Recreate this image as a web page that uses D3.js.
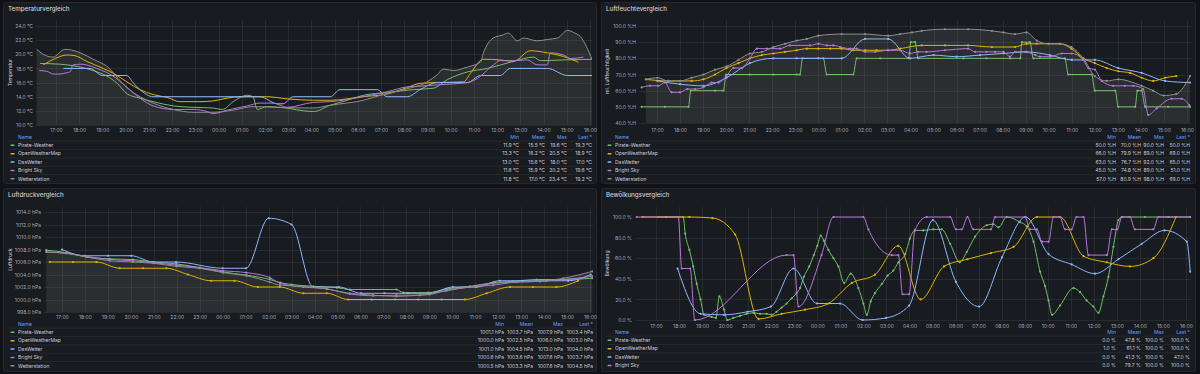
<!DOCTYPE html>
<html>
<head>
<meta charset="utf-8">
<script src="https://cdn.jsdelivr.net/npm/d3@7"></script>
<style>
html, body { margin: 0; padding: 0; background: #111217; }
svg { display: block; font-family: Inter, "Open Sans", sans-serif; }
</style>
</head>
<body>
<svg id="dashboard" width="1200" height="374"></svg>
<script>
// ---- data ----
var seriesNames = ["Pirate-Weather", "OpenWeatherMap", "DasWetter", "Bright Sky", "Wetterstation"];
var statHeaders = ["Min", "Mean", "Max", "Last *"];
var hourTickFormat = "%H:%M";

// Temperatur (°C)
var tempTicks = [10, 12, 14, 16, 18, 20, 22, 24];
var tempPirate = [["16:19",18.7],["17:10",18.6],["18:02",18.2],["18:36",17.7],["19:12",16.9],["19:38",15.9],["20:04",14.4],["20:37",13.8],["21:11",13.3],["22:03",12.7],["22:54",12.5],["23:46",12.4],["00:10",12.2],["00:38",13.3],["01:14",14.2],["01:29",14.0],["01:40",12.2],["02:05",12.6],["02:39",12.5],["04:05",11.9],["04:49",12.8],["05:33",13.5],["06:14",14.2],["07:16",14.6],["08:23",15.0],["09:15",15.2],["09:51",16.4],["10:43",17.5],["11:35",18.0],["12:42",19.0],["13:34",19.6],["13:52",19.1],["14:51",19.2],["16:06",19.3]];
var tempOwm = [["16:27",18.5],["16:58",19.4],["17:28",19.9],["17:49",19.8],["18:19",19.0],["19:02",18.0],["19:32",17.2],["20:03",16.1],["20:37",15.0],["21:11",14.3],["21:47",13.9],["22:20",13.3],["23:12",13.3],["23:46",13.4],["00:22",13.8],["00:56",14.0],["02:05",14.0],["02:57",13.7],["04:05",13.5],["04:49",13.5],["06:14",14.0],["07:16",14.4],["08:08",15.3],["08:41",15.9],["09:25",16.0],["10:33",16.1],["10:51",17.3],["11:24",19.3],["12:08",19.2],["12:42",19.0],["13:26",20.5],["14:10",20.2],["14:51",19.7],["15:30",18.9]];
var tempDasWetter = [["17:19",18],["18:28",18],["19:00",17],["20:03",17],["20:19",16],["20:37",15],["21:11",14],["01:47",14],["02:32",13],["02:47",13],["03:13",14],["04:49",14],["05:14",15],["06:50",15],["07:16",14],["08:08",14],["08:41",15],["09:25",16],["10:43",16],["11:17",17],["12:08",17],["12:34",18],["14:10",18],["15:02",17],["16:06",17]];
var tempBrightSky = [["16:17",17.7],["16:36",17.6],["16:53",17.2],["17:10",17.2],["17:28",17.4],["17:36",17.5],["17:44",18.5],["18:02",18.6],["18:19",18.5],["18:45",18.0],["19:12",17.4],["19:38",16.5],["20:04",15.3],["20:37",13.8],["21:11",12.7],["22:03",12.2],["22:54",12.2],["23:31",11.9],["23:46",11.6],["00:22",12.1],["01:14",12.7],["01:47",13.1],["02:21",13.1],["02:57",12.5],["04:05",13.2],["04:49",13.3],["06:14",14.0],["07:16",14.7],["08:08",15.4],["08:41",15.5],["09:33",15.7],["10:43",16.0],["11:17",16.9],["11:35",17.8],["11:50",18.5],["12:08",19.1],["12:42",19.1],["13:18",19.2],["13:44",18.5],["14:10",18.5],["14:17",20.2],["14:51",19.9],["15:10",19.4],["15:43",19.6]];
var tempStation = [["16:10",20.7],["16:27",20.0],["16:52",19.6],["17:23",20.7],["17:41",20.6],["18:07",20.1],["18:36",19.3],["19:20",17.9],["19:40",16.6],["20:03",15.3],["20:37",14.0],["21:11",13.1],["22:03",12.2],["22:54",11.8],["23:46",11.8],["00:38",12.1],["01:29",12.6],["02:32",12.5],["04:05",12.4],["04:49",12.8],["06:14",13.5],["06:58",14.2],["07:58",15.0],["08:59",16.1],["09:25",17.1],["09:41",17.9],["10:07",17.7],["10:43",18.2],["11:17",18.9],["11:24",20.1],["11:50",22.3],["12:13",22.7],["12:29",23.0],["12:52",21.9],["13:08",22.3],["13:44",21.9],["14:10",22.1],["14:36",22.3],["15:02",23.4],["15:17",23.1],["15:35",22.5],["16:06",19.2]];
var tempStats = [["11.9 °C","15.5 °C","19.6 °C","19.3 °C"],["13.3 °C","16.2 °C","20.5 °C","18.9 °C"],["13.0 °C","15.6 °C","18.0 °C","17.0 °C"],["11.6 °C","15.9 °C","20.2 °C","19.6 °C"],["11.8 °C","17.0 °C","23.4 °C","19.2 °C"]];

// Luftfeuchte (%H)
var humTicks = [40, 50, 60, 70, 80, 90, 100];
var humPirate = [["16:20",50],["17:21",50],["18:22",50],["18:28",60],["19:31",60],["19:53",60],["20:00",70],["21:02",70],["22:03",70],["23:04",70],["23:12",70],["23:19",80],["00:13",80],["00:22",70],["01:31",70],["01:40",80],["02:41",80],["03:55",80],["04:01",90],["04:12",90],["04:20",80],["06:18",80],["07:18",80],["08:20",80],["08:46",80],["08:50",90],["09:11",90],["09:20",80],["10:42",80],["10:51",70],["11:52",70],["12:00",60],["12:53",60],["13:01",50],["13:45",50],["13:51",60],["14:02",60],["14:11",50],["15:11",50],["16:08",50]];
var humOwm = [["16:31",67],["17:29",66],["18:30",66],["19:01",67],["19:31",70],["20:01",74],["20:32",77],["21:02",80],["21:33",82],["22:03",83],["22:33",84],["23:04",85],["23:30",86],["00:00",86],["00:31",86],["01:01",86],["01:31",85],["02:02",85],["02:32",85],["03:02",85],["03:33",86],["04:29",88],["05:30",88],["06:30",88],["07:32",87],["08:32",87],["09:02",89],["09:29",89],["10:29",89],["10:59",86],["11:30",80],["12:00",77],["12:31",74],["13:01",72],["13:32",71],["14:02",68],["14:32",66],["15:03",68],["15:32",69]];
var humDasWetter = [["17:01",66],["18:00",64],["19:01",63],["20:01",68],["21:02",77],["22:03",80],["23:04",80],["00:00",80],["01:01",80],["02:02",92],["03:02",92],["03:59",80],["05:00",82],["06:00",81],["07:01",82],["08:02",83],["09:02",84],["10:03",82],["11:00",79],["12:00",79],["13:01",74],["14:02",71],["15:03",66],["16:08",65]];
var humBrightSky = [["16:20",62],["16:42",63],["17:03",63],["17:21",65],["17:38",59],["18:00",59],["18:19",61],["18:39",61],["19:01",62],["19:22",65],["19:40",65],["20:01",69],["20:19",74],["20:41",74],["21:02",80],["21:20",86],["21:46",86],["22:20",86],["22:46",88],["23:38",88],["00:00",89],["00:22",88],["00:39",88],["00:57",87],["01:23",86],["01:40",86],["02:02",84],["02:28",84],["03:02",85],["03:33",85],["03:59",83],["04:20",84],["04:42",84],["05:30",85],["06:30",86],["06:48",84],["07:18",84],["07:40",84],["08:02",84],["08:19",81],["08:32",84],["08:58",84],["09:25",82],["09:37",81],["10:04",81],["10:34",83],["11:00",83],["11:30",79],["11:43",74],["12:00",73],["12:18",66],["12:48",63],["13:18",63],["13:40",63],["14:06",61],["14:19",45],["14:41",49],["15:20",55],["15:46",55],["16:06",51]];
var humStation = [["16:31",67],["17:01",68],["17:29",66],["18:00",66],["18:30",68],["19:01",70],["19:31",73],["20:01",75],["20:32",79],["21:02",83],["21:33",84],["22:03",87],["22:33",89],["23:04",91],["23:30",92],["00:00",94],["01:01",95],["02:02",95],["03:02",94],["03:33",95],["04:04",96],["04:29",97],["05:30",98],["06:30",98],["07:32",97],["08:02",96],["08:32",95],["09:02",96],["09:29",91],["09:59",89],["10:29",89],["10:59",87],["11:30",80],["12:00",69],["12:31",66],["13:01",67],["14:02",63],["14:32",60],["14:59",57],["15:32",58],["16:08",69]];
var humStats = [["50.0 %H","70.0 %H","90.0 %H","50.0 %H"],["66.0 %H","79.9 %H","89.0 %H","69.0 %H"],["63.0 %H","76.7 %H","92.0 %H","65.0 %H"],["45.0 %H","74.8 %H","89.0 %H","51.0 %H"],["57.0 %H","80.9 %H","98.0 %H","69.0 %H"]];

// Luftdruck (hPa)
var pressTicks = [998, 1000, 1002, 1004, 1006, 1008, 1010, 1012, 1014];
var pressPirate = [["16:19",1007.9],["17:11",1007.5],["18:04",1006.8],["19:05",1006.5],["20:05",1006.4],["20:58",1006.0],["21:59",1005.7],["23:00",1005.1],["00:01",1004.4],["01:02",1003.9],["02:03",1003.2],["02:30",1002.7],["03:00",1002.4],["03:57",1002.1],["04:58",1001.9],["05:32",1001.6],["07:34",1001.6],["07:52",1001.1],["08:57",1001.1],["09:45",1001.7],["10:46",1002.1],["11:47",1002.7],["12:40",1002.9],["13:40",1003.2],["14:50",1003.2],["16:06",1003.4]];
var pressOwm = [["16:28",1006],["17:29",1006],["18:30",1006],["19:31",1005],["20:32",1005],["21:33",1005],["22:29",1004],["23:30",1003],["00:31",1003],["01:32",1002],["02:29",1002],["03:31",1001],["04:32",1001],["05:28",1000],["06:29",1000],["07:30",1000],["08:31",1000],["09:32",1000],["10:33",1000],["11:30",1001],["12:31",1002],["13:31",1002],["14:32",1002],["15:29",1003]];
var pressDasWetter = [["17:00",1008],["17:59",1007],["19:00",1007],["20:01",1007],["20:59",1006],["21:58",1006],["00:00",1005],["01:01",1005],["02:00",1013],["03:00",1012],["03:56",1002],["05:03",1002],["06:02",1001],["07:03",1001],["08:04",1001],["09:00",1001],["10:02",1002],["11:03",1002],["12:04",1003],["13:05",1003],["14:06",1003],["15:03",1003],["16:02",1004]];
var pressBrightSky = [["16:19",1007.6],["17:11",1007.4],["18:04",1006.9],["19:05",1006.4],["20:05",1006.2],["20:58",1005.9],["21:59",1005.5],["23:00",1005.1],["00:01",1004.6],["01:02",1004.3],["02:03",1003.5],["02:30",1002.6],["03:31",1002.0],["04:32",1001.7],["05:32",1000.9],["06:33",1000.6],["07:34",1000.7],["08:35",1000.7],["09:01",1000.9],["09:45",1001.4],["10:46",1002.0],["11:47",1002.3],["12:48",1002.8],["13:49",1002.9],["14:50",1003.2],["16:06",1003.7]];
var pressStation = [["16:19",1007.6],["17:11",1007.4],["18:04",1006.8],["19:05",1006.2],["20:05",1006.0],["20:58",1005.8],["21:59",1005.3],["23:00",1005.0],["00:01",1004.3],["01:02",1003.8],["02:03",1002.8],["02:30",1002.3],["03:31",1002.1],["04:32",1001.7],["05:32",1001.0],["06:33",1000.7],["07:34",1000.5],["08:35",1000.7],["09:01",1000.8],["09:45",1001.5],["10:46",1002.0],["11:47",1002.6],["12:48",1002.8],["13:49",1002.9],["14:50",1003.4],["16:06",1004.5]];
var pressStats = [["1001.1 hPa","1003.7 hPa","1007.9 hPa","1003.4 hPa"],["1000.0 hPa","1002.5 hPa","1006.0 hPa","1003.0 hPa"],["1001.0 hPa","1004.5 hPa","1013.0 hPa","1004.0 hPa"],["1000.6 hPa","1003.6 hPa","1007.6 hPa","1003.7 hPa"],["1000.5 hPa","1003.3 hPa","1007.6 hPa","1004.5 hPa"]];

// Bewölkung (%)
var cloudTicks = [0, 20, 40, 60, 80, 100];
var cloudPirate = [["17:06",100],["18:11",100],["18:16",84],["18:27",68],["18:37",52],["18:46",35],["18:56",20],["19:05",5],["19:25",3],["19:36",2],["19:45",23],["19:57",10],["20:06",0],["20:21",2],["20:39",4],["20:56",6],["21:14",7],["21:31",6],["21:48",6],["22:01",5],["22:14",8],["22:27",12],["22:40",16],["22:53",21],["23:06",26],["23:15",31],["23:25",42],["23:39",52],["23:51",63],["00:00",72],["00:09",82],["00:17",77],["00:29",68],["00:42",60],["00:55",52],["01:10",36],["01:27",45],["01:47",31],["02:00",16],["02:09",5],["02:19",18],["02:30",26],["02:48",35],["03:03",43],["03:18",48],["03:31",56],["03:49",64],["04:01",79],["04:14",87],["04:36",87],["05:02",88],["05:24",88],["05:46",74],["06:11",56],["06:29",66],["06:51",81],["07:21",92],["07:38",93],["07:52",90],["08:13",100],["08:48",95],["09:05",91],["09:23",76],["09:40",47],["09:53",33],["10:02",19],["10:11",5],["10:32",14],["11:07",31],["11:24",27],["11:41",19],["11:59",13],["12:12",7],["12:25",23],["12:38",42],["12:51",71],["13:04",97],["13:13",100],["14:13",100],["15:14",100],["16:11",100]];
var cloudOwm = [["16:25",100],["17:26",100],["18:27",100],["19:27",99],["20:26",83],["21:27",1],["22:27",6],["23:28",10],["00:29",16],["01:30",36],["02:30",44],["03:31",72],["04:29",20],["05:30",52],["06:31",59],["07:32",65],["08:31",71],["09:32",100],["10:32",100],["11:33",62],["12:34",56],["13:34",52],["14:35",60],["15:34",100]];
var cloudDasWetter = [["17:56",50],["18:56",6],["19:57",5],["20:58",8],["21:59",13],["22:58",50],["23:59",16],["00:59",16],["01:58",0],["02:59",2],["03:59",14],["05:01",97],["06:01",37],["07:01",13],["08:01",61],["09:02",100],["10:02",64],["11:02",54],["12:03",45],["13:04",59],["14:05",74],["15:04",87],["16:02",76],["16:11",47]];
var cloudBrightSky = [["16:10",100],["17:58",100],["18:07",50],["18:29",50],["18:41",0],["22:40",63],["22:58",63],["23:11",13],["00:11",63],["00:42",100],["02:00",100],["02:13",88],["03:14",63],["03:31",63],["03:42",25],["03:59",25],["04:14",87],["04:45",100],["05:46",100],["06:01",88],["06:16",88],["06:31",100],["06:46",88],["07:32",88],["07:43",100],["09:01",100],["09:14",88],["09:32",88],["09:45",76],["10:02",76],["10:15",100],["10:32",100],["10:45",88],["11:02",88],["11:15",100],["11:33",100],["11:46",63],["12:34",63],["12:47",88],["13:01",88],["13:13",100],["13:34",100],["13:47",88],["14:35",88],["14:48",100],["16:11",100]];
var cloudStats = [["0.0 %","47.8 %","100.0 %","100.0 %"],["1.0 %","61.1 %","100.0 %","100.0 %"],["0.0 %","41.3 %","100.0 %","47.0 %"],["0.0 %","79.7 %","100.0 %","100.0 %"]];

// ---- styling ----
var seriesColors = ["#73BF69", "#E0B400", "#8AB8FF", "#B877D9", "#8E8E8E"];
var textColor = "#ccccdc";
var headerColor = "#6E9FFF";
var gridColor = "rgba(204,204,220,0.09)";
var smallFont = "5px";

// "HH:MM" strings run forward in time; a smaller time than the one before means the next day
function parseSeries(points) {
	var day = 0, previous = -1;
	return points.map(function(p) {
		var parts = p[0].split(":");
		var minutes = +parts[0] * 60 + +parts[1];
		if (minutes < previous) day++;
		previous = minutes;
		return { date: new Date(2024, 0, 1 + day, +parts[0], +parts[1]), value: p[1] };
	});
}

function TimeSeriesPanel(svg, opts) {
	var self = this;
	self.svg = svg;
	self.opts = opts;
	self.g = svg.append("g");
	self.x = d3.scaleTime()
		.domain([new Date(2024, 0, 1, 17, 0), new Date(2024, 0, 2, 16, 0)])
		.range([opts.x17, opts.x16]);
	var t = opts.yTicks;
	self.y = d3.scaleLinear()
		.domain([t[0], t[t.length - 1]])
		.range([opts.plot.bottom, opts.yTopPx]);
}

TimeSeriesPanel.prototype.draw = function() {
	var self = this;
	self.drawFrame();
	self.drawGrid();
	self.drawAxes();
	self.drawSeries();
	self.drawLegend();
};

TimeSeriesPanel.prototype.drawFrame = function() {
	var self = this, o = self.opts, b = o.box;
	self.g.append("rect")
		.attr("x", b.x + 0.5).attr("y", b.y + 0.5)
		.attr("width", b.w - 1).attr("height", b.h - 1)
		.attr("rx", 2)
		.attr("fill", "#181b1f")
		.attr("stroke", "#25272c");
	self.g.append("text")
		.attr("x", b.x + 5).attr("y", b.y + 8.6)
		.attr("fill", textColor)
		.style("font-size", "6.2px")
		.style("font-weight", 500)
		.text(o.title);
	var p = o.plot;
	self.g.append("text")
		.attr("transform", "translate(" + o.yTitleX + "," + ((p.top + p.bottom) / 2) + ") rotate(-90)")
		.attr("text-anchor", "middle")
		.attr("dy", "0.35em")
		.attr("fill", textColor)
		.style("font-size", smallFont)
		.text(o.yTitle);
	self.clipId = "clip-" + o.id;
	self.g.append("clipPath").attr("id", self.clipId)
		.append("rect")
		.attr("x", p.left).attr("y", p.top)
		.attr("width", p.right - p.left).attr("height", p.bottom - p.top + 1);
};

TimeSeriesPanel.prototype.drawGrid = function() {
	var self = this, o = self.opts, p = o.plot;
	var grid = self.g.append("g").attr("stroke", gridColor).attr("stroke-width", 1);
	grid.selectAll("line.h")
		.data(o.yTicks)
		.enter().append("line")
		.attr("class", "h")
		.attr("x1", p.left).attr("x2", p.right)
		.attr("y1", function(d) { return Math.round(self.y(d)) + 0.5; })
		.attr("y2", function(d) { return Math.round(self.y(d)) + 0.5; });
	grid.selectAll("line.v")
		.data(self.x.ticks(d3.timeHour.every(1)))
		.enter().append("line")
		.attr("class", "v")
		.attr("x1", function(d) { return Math.round(self.x(d)) + 0.5; })
		.attr("x2", function(d) { return Math.round(self.x(d)) + 0.5; })
		.attr("y1", p.top).attr("y2", p.bottom);
};

TimeSeriesPanel.prototype.drawAxes = function() {
	var self = this, o = self.opts, p = o.plot;
	var xAxis = d3.axisBottom(self.x)
		.ticks(d3.timeHour.every(1))
		.tickFormat(d3.timeFormat(hourTickFormat))
		.tickSize(0)
		.tickPadding(0);
	var yAxis = d3.axisLeft(self.y)
		.tickValues(o.yTicks)
		.tickFormat(function(d) { return d3.format(".1f")(d) + " " + o.unit; })
		.tickSize(0)
		.tickPadding(0);
	var gx = self.g.append("g")
		.attr("transform", "translate(0," + o.xLabelY + ")")
		.call(xAxis);
	var gy = self.g.append("g")
		.attr("transform", "translate(" + o.yLabelRight + ",0)")
		.call(yAxis);
	[gx, gy].forEach(function(a) {
		a.select(".domain").remove();
		a.selectAll("text")
			.attr("fill", "rgba(204,204,220,0.82)")
			.style("font-family", "Inter, 'Open Sans', sans-serif")
			.style("font-size", smallFont);
	});
	gx.selectAll("text").attr("dy", "0.35em").attr("y", 0);
};

TimeSeriesPanel.prototype.drawSeries = function() {
	var self = this, o = self.opts, p = o.plot;
	var layer = self.g.append("g").attr("clip-path", "url(#" + self.clipId + ")");
	var line = d3.line()
		.x(function(d) { return self.x(d.date); })
		.y(function(d) { return self.y(d.value); })
		.curve(d3.curveMonotoneX);
	var area = d3.area()
		.x(function(d) { return self.x(d.date); })
		.y0(p.bottom)
		.y1(function(d) { return self.y(d.value); })
		.curve(d3.curveMonotoneX);
	o.series.forEach(function(s, i) {
		if (o.fillIndex === i) {
			layer.append("path")
				.datum(parseSeries(s))
				.attr("d", area)
				.attr("fill", seriesColors[i])
				.attr("fill-opacity", 0.17);
		}
	});
	o.series.forEach(function(s, i) {
		var data = parseSeries(s);
		layer.append("path")
			.datum(data)
			.attr("d", line)
			.attr("fill", "none")
			.attr("stroke", seriesColors[i])
			.attr("stroke-width", 1);
		if (o.points) {
			layer.selectAll("circle.s" + i)
				.data(data)
				.enter().append("circle")
				.attr("class", "s" + i)
				.attr("cx", function(d) { return self.x(d.date); })
				.attr("cy", function(d) { return self.y(d.value); })
				.attr("r", 1.1)
				.attr("fill", seriesColors[i]);
		}
	});
};

TimeSeriesPanel.prototype.drawLegend = function() {
	var self = this, o = self.opts, b = o.box, l = o.legend;
	var g = self.g.append("g").style("font-size", smallFont);
	g.append("text")
		.attr("x", l.nameX).attr("y", l.headerY)
		.attr("dy", "0.35em")
		.attr("fill", headerColor)
		.text("Name");
	statHeaders.forEach(function(h, c) {
		g.append("text")
			.attr("x", l.cols[c]).attr("y", l.headerY)
			.attr("dy", "0.35em")
			.attr("text-anchor", "end")
			.attr("fill", headerColor)
			.text(h);
	});
	var rows = g.selectAll("g.row")
		.data(o.stats)
		.enter().append("g")
		.attr("class", "row")
		.attr("transform", function(d, i) {
			return "translate(0," + (l.headerY + l.step * (i + 1)) + ")";
		});
	rows.append("line")
		.attr("x1", b.x + 6).attr("x2", b.x + b.w - 5)
		.attr("y1", -l.step / 2).attr("y2", -l.step / 2)
		.attr("stroke", "rgba(204,204,220,0.08)");
	rows.append("rect")
		.attr("x", l.swatchX).attr("y", -0.75)
		.attr("width", 4).attr("height", 1.5)
		.attr("rx", 0.5)
		.attr("fill", function(d, i) { return seriesColors[i]; });
	rows.append("text")
		.attr("x", l.nameX)
		.attr("dy", "0.35em")
		.attr("fill", textColor)
		.text(function(d, i) { return seriesNames[i]; });
	statHeaders.forEach(function(h, c) {
		rows.append("text")
			.attr("x", l.cols[c])
			.attr("dy", "0.35em")
			.attr("text-anchor", "end")
			.attr("fill", textColor)
			.text(function(d) { return d[c]; });
	});
};

var svg = d3.select("#dashboard");

new TimeSeriesPanel(svg, {
	id: "temp", title: "Temperaturvergleich", yTitle: "Temperatur", unit: "°C",
	box: { x: 3, y: 2, w: 594, h: 182 },
	plot: { left: 36, right: 592, top: 20, bottom: 125 },
	yTopPx: 26, x17: 56, x16: 590, xLabelY: 130, yLabelRight: 33, yTitleX: 10,
	yTicks: tempTicks,
	series: [tempPirate, tempOwm, tempDasWetter, tempBrightSky, tempStation],
	stats: tempStats, fillIndex: 4, points: false,
	legend: { headerY: 137, step: 8.35, swatchX: 10.5, nameX: 18, cols: [519, 545, 567, 592] }
}).draw();

new TimeSeriesPanel(svg, {
	id: "hum", title: "Luftfeuchtevergleich", yTitle: "rel. Luftfeuchtigkeit", unit: "%H",
	box: { x: 601, y: 2, w: 595, h: 182 },
	plot: { left: 639, right: 1191, top: 20, bottom: 123 },
	yTopPx: 26, x17: 657, x16: 1187, xLabelY: 130, yLabelRight: 636, yTitleX: 607.5,
	yTicks: humTicks,
	series: [humPirate, humOwm, humDasWetter, humBrightSky, humStation],
	stats: humStats, fillIndex: 4, points: true,
	legend: { headerY: 137, step: 8.35, swatchX: 607.5, nameX: 615, cols: [1116, 1141, 1164, 1190] }
}).draw();

new TimeSeriesPanel(svg, {
	id: "press", title: "Luftdruckvergleich", yTitle: "Luftdruck", unit: "hPa",
	box: { x: 3, y: 188, w: 594, h: 184 },
	plot: { left: 44, right: 593, top: 207, bottom: 312 },
	yTopPx: 212, x17: 62, x16: 590, xLabelY: 317, yLabelRight: 41, yTitleX: 10,
	yTicks: pressTicks,
	series: [pressPirate, pressOwm, pressDasWetter, pressBrightSky, pressStation],
	stats: pressStats, fillIndex: 4, points: true,
	legend: { headerY: 324, step: 8.35, swatchX: 10.5, nameX: 18, cols: [504, 533, 563, 593] }
}).draw();

new TimeSeriesPanel(svg, {
	id: "cloud", title: "Bewölkungsvergleich", yTitle: "Bewölkung", unit: "%",
	box: { x: 601, y: 188, w: 595, h: 184 },
	plot: { left: 635, right: 1191, top: 207, bottom: 320 },
	yTopPx: 217, x17: 656, x16: 1186, xLabelY: 326, yLabelRight: 632, yTitleX: 607,
	yTicks: cloudTicks,
	series: [cloudPirate, cloudOwm, cloudDasWetter, cloudBrightSky],
	stats: cloudStats, fillIndex: -1, points: true,
	legend: { headerY: 332, step: 8.35, swatchX: 607.5, nameX: 615, cols: [1116, 1141, 1164, 1190] }
}).draw();
</script>
</body>
</html>
